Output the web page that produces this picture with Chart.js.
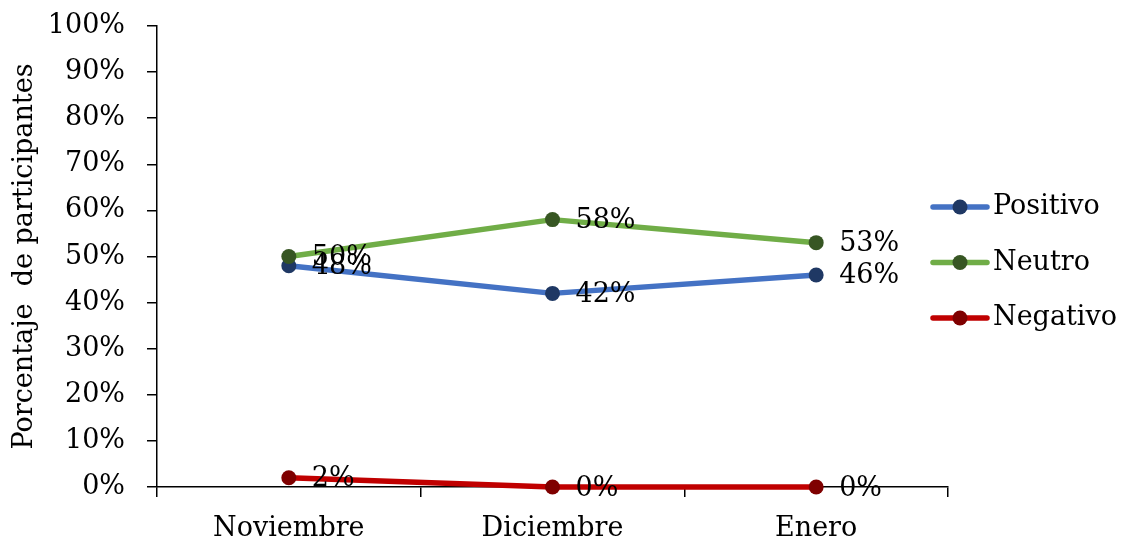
<!DOCTYPE html>
<html>
<head>
<meta charset="utf-8">
<style>
  html, body { margin: 0; padding: 0; background: #ffffff; }
  #wrap { width: 1127px; height: 541px; }
</style>
<script src="https://cdn.jsdelivr.net/npm/chart.js@4.4.1/dist/chart.umd.min.js"></script>
</head>
<body>
<div id="wrap"><canvas id="c" width="1127" height="541"></canvas></div>
<script>
// Categories, series values (percent of participants) and axis ticks
const months = ['Noviembre', 'Diciembre', 'Enero'];
const positivo = [48, 42, 46];
const neutro = [50, 58, 53];
const negativo = [2, 0, 0];
const percentTicks = [0, 10, 20, 30, 40, 50, 60, 70, 80, 90, 100];
const seriesNames = ['Positivo', 'Neutro', 'Negativo'];
const yTitle = 'Porcentaje  de participantes';

const FONT_FAMILY = '"DejaVu Serif", serif';
const FONT_SIZE = 27;
const font = { family: FONT_FAMILY, size: FONT_SIZE };
const fontCss = FONT_SIZE + 'px ' + FONT_FAMILY;

// Value labels to the right of each point
const pointLabels = {
  id: 'pointLabels',
  afterDatasetsDraw(chart, args, opts) {
    const ctx = chart.ctx;
    ctx.save();
    ctx.font = fontCss;
    ctx.fillStyle = opts.color;
    ctx.textAlign = 'left';
    ctx.textBaseline = 'middle';
    chart.data.datasets.forEach((ds, i) => {
      const meta = chart.getDatasetMeta(i);
      meta.data.forEach((pt, j) => {
        ctx.fillText(ds.data[j] + '%', pt.x + opts.offsetX, pt.y + opts.offsetY);
      });
    });
    ctx.restore();
  }
};

// Legend entries: line with a marker in the middle, then the series name
const sideLegend = {
  id: 'sideLegend',
  afterDraw(chart, args, opts) {
    const ctx = chart.ctx;
    ctx.save();
    ctx.font = fontCss;
    ctx.textAlign = 'left';
    ctx.textBaseline = 'middle';
    chart.data.datasets.forEach((ds, i) => {
      const x = opts.left;
      const y = opts.top + i * opts.spacing;
      ctx.strokeStyle = ds.borderColor;
      ctx.lineWidth = ds.borderWidth;
      ctx.lineCap = 'round';
      ctx.beginPath();
      ctx.moveTo(x, y);
      ctx.lineTo(x + opts.lineLength, y);
      ctx.stroke();
      ctx.fillStyle = ds.pointBackgroundColor;
      ctx.beginPath();
      ctx.arc(x + opts.lineLength / 2, y, ds.pointRadius, 0, Math.PI * 2);
      ctx.fill();
      ctx.fillStyle = opts.color;
      ctx.fillText(ds.label, x + opts.lineLength + opts.gap, y);
    });
    ctx.restore();
  }
};

function series(label, data, line, marker, order) {
  return {
    label: label,
    data: data,
    borderColor: line,
    backgroundColor: line,
    borderWidth: 5.5,
    borderCapStyle: 'round',
    borderJoinStyle: 'round',
    pointRadius: 7.5,
    pointHoverRadius: 7.5,
    pointBackgroundColor: marker,
    pointBorderColor: marker,
    pointBorderWidth: 0,
    tension: 0,
    fill: false,
    clip: false,
    order: order
  };
}

new Chart(document.getElementById('c'), {
  type: 'line',
  data: {
    labels: months,
    datasets: [
      series(seriesNames[0], positivo, '#4472C4', '#1F3864', 3),
      series(seriesNames[1], neutro, '#70AD47', '#375623', 2),
      series(seriesNames[2], negativo, '#C00000', '#7F0000', 1)
    ]
  },
  options: {
    responsive: false,
    animation: false,
    events: [],
    layout: { padding: { left: 0, right: 179, top: 26, bottom: 0 } },
    plugins: {
      legend: { display: false },
      tooltip: { enabled: false },
      pointLabels: { color: '#000000', offsetX: 23, offsetY: 1.5 },
      sideLegend: { color: '#000000', left: 933, top: 207, spacing: 55.5, lineLength: 54, gap: 6 }
    },
    scales: {
      x: {
        offset: true,
        grid: { offset: true, drawOnChartArea: false, color: '#000000', lineWidth: 1.5, tickLength: 10 },
        border: { color: '#000000', width: 1.5 },
        ticks: { font: font, color: '#000000', padding: 16, maxRotation: 0 },
        afterFit(scale) { scale.height = 54; }
      },
      y: {
        min: 0,
        max: 100,
        afterBuildTicks(scale) { scale.ticks = percentTicks.map(v => ({ value: v })); },
        grid: { drawOnChartArea: false, color: '#000000', lineWidth: 1.5, tickLength: 10 },
        border: { color: '#000000', width: 1.5 },
        ticks: { font: font, color: '#000000', padding: 22, callback: v => v + '%' },
        title: { display: true, text: yTitle, font: font, color: '#000000', padding: { top: 9, bottom: 0 } },
        afterFit(scale) {
          scale.width = 157;
          scale.paddingTop = 0;
          scale.paddingBottom = 0;
        }
      }
    }
  },
  plugins: [pointLabels, sideLegend]
});
</script>
</body>
</html>
